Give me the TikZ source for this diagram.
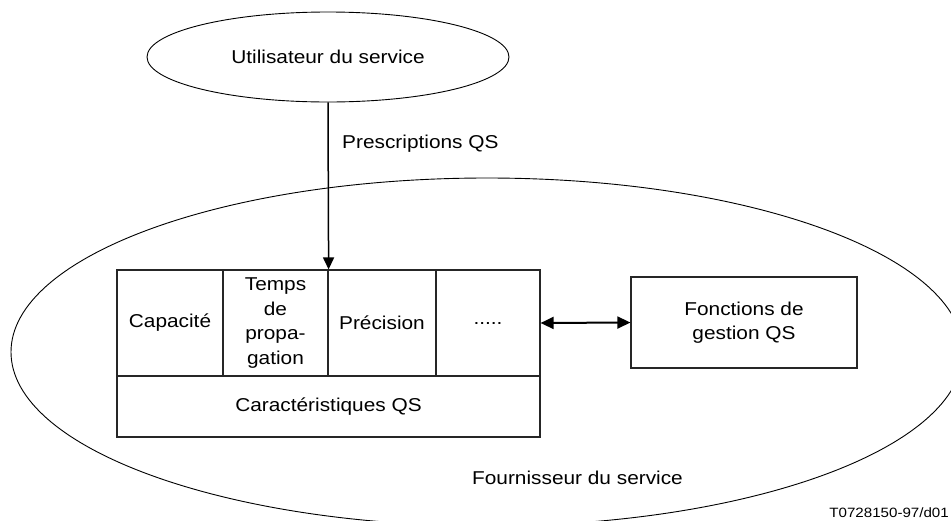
\documentclass[tikz,border=0pt]{standalone}
\usepackage{fontspec}
\setmainfont{Liberation Sans}[FakeStretch=1.12]
\usepackage{tikz}
\usetikzlibrary{positioning,calc,arrows.meta,shapes.geometric}
\tikzset{
  qsfont/.style={font=\fontsize{18.6}{24.5}\selectfont},
  qssmall/.style={font=\fontsize{13.5}{16}\selectfont},
  qscell/.style={draw=black!85, line width=1.2pt, align=center, inner sep=0pt},
  qsellipse/.style={draw, ellipse, line width=0.9pt, inner sep=0pt},
  qsarrow/.style={-{Triangle[length=12pt,width=11pt]}, line width=1.5pt},
  qsdouble/.style={{Triangle[length=13pt,width=12pt]}-{Triangle[length=13pt,width=12pt]}, line width=2pt},
}
\begin{document}
\begin{tikzpicture}[x=1pt,y=-1pt,qsfont]
	\clip (0,0) rectangle (951,520);

	% Provider: big ellipse, cut by the page
		\draw[line width=0.9pt] (487,352) ellipse [x radius=476, y radius=174];
		\node (fourn) at (577.5,478) {Fournisseur du service};

	% User
		\node[qsellipse, minimum width=362pt, minimum height=90pt] (user) at (328,57) {Utilisateur du service};

	% QS characteristics
		\node[qscell, minimum width=106pt, minimum height=106pt] (cap) at (170,323) {Capacit\'e};
		\node[qscell, minimum width=105pt, minimum height=106pt] (temps) at (275.5,323) {Temps\\de\\propa-\\gation};
		\node[qscell, minimum width=108pt, minimum height=106pt] (prec) at (382,323) {Pr\'ecision};
		\node[qscell, minimum width=104pt, minimum height=106pt] (dots) at (488,323) {.....};
		\node[qscell, minimum width=423pt, minimum height=61pt] (carac) at (328.5,406.5) {Caract\'eristiques QS};

	% QS management
		\node[qscell, minimum width=226pt, minimum height=91pt] (gestion) at (744,322.5) {Fonctions de\\gestion QS};

	% Connectors
		\draw[qsarrow] (user.south) -- node[pos=0.245, right=10pt] {Prescriptions QS} (temps.north east);
		\draw[qsdouble] (dots.east) -- (gestion.west);

		\node[qssmall, anchor=east, inner sep=1pt] (ref) at (950,513) {T0728150-97/d01};
\end{tikzpicture}
\end{document}
